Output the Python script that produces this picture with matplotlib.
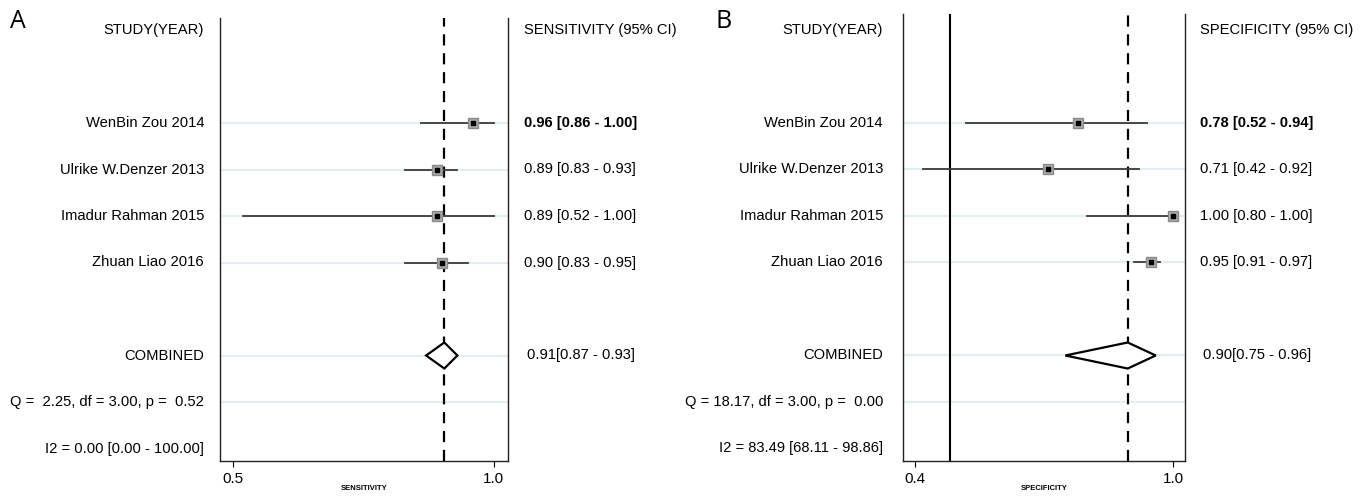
import matplotlib
matplotlib.use("Agg")
import matplotlib.pyplot as plt
import matplotlib.transforms as mtransforms

plt.rcParams["font.family"] = ["Liberation Sans", "DejaVu Sans"]

studies = ["WenBin Zou 2014", "Ulrike W.Denzer 2013", "Imadur Rahman 2015", "Zhuan Liao 2016"]

sens = [0.96, 0.89, 0.89, 0.90]
sens_lo = [0.86, 0.83, 0.52, 0.83]
sens_hi = [1.00, 0.93, 1.00, 0.95]
sens_pooled = [0.905, 0.87, 0.93]
sens_labels = ["0.96 [0.86 - 1.00]", "0.89 [0.83 - 0.93]", "0.89 [0.52 - 1.00]", "0.90 [0.83 - 0.95]"]
sens_pooled_label = "0.91[0.87 - 0.93]"
sens_q = "Q =  2.25, df = 3.00, p =  0.52"
sens_i2 = "I2 = 0.00 [0.00 - 100.00]"

spec = [0.78, 0.71, 1.00, 0.95]
spec_lo = [0.52, 0.42, 0.80, 0.91]
spec_hi = [0.94, 0.92, 1.00, 0.97]
spec_pooled = [0.895, 0.75, 0.96]
spec_labels = ["0.78 [0.52 - 0.94]", "0.71 [0.42 - 0.92]", "1.00 [0.80 - 1.00]", "0.95 [0.91 - 0.97]"]
spec_pooled_label = "0.90[0.75 - 0.96]"
spec_q = "Q = 18.17, df = 3.00, p =  0.00"
spec_i2 = "I2 = 83.49 [68.11 - 98.86]"

W, H = 1371, 497
fig = plt.figure(figsize=(W / 100, H / 100), dpi=100)

STUDY_ROWS = [2, 3, 4, 5]
POOL_ROW, Q_ROW, I2_ROW = 7, 8, 9
GRID_COLOR = "#e4edf0"
FS = 10.6


def panel(letter, left_px, right_px, top_px, xlim, ticks, xlabel, header,
          est, lo, hi, labels, pooled, pooled_label, q, i2,
          label_x_px, value_x_px, letter_x_px, solid_x=None):
    bottom_px = 461
    ax = fig.add_axes([left_px / W, 1 - bottom_px / H,
                       (right_px - left_px) / W, (bottom_px - top_px) / H])
    # row 0 is the header line at y=30 px, rows are 46.5 px apart
    ax.set_ylim((bottom_px - 30) / 46.5, (top_px - 30) / 46.5)
    ax.set_xlim(*xlim)

    for r in STUDY_ROWS + [POOL_ROW, Q_ROW]:
        ax.axhline(r, color=GRID_COLOR, lw=1.6, zorder=0)

    if solid_x is not None:
        ax.axvline(solid_x, color="black", lw=1.5, zorder=1)
    ax.axvline(pooled[0], color="black", lw=1.6, ls=(0, (5, 3.5)), zorder=1)

    for r, e, l, h in zip(STUDY_ROWS, est, lo, hi):
        ax.plot([l, h], [r, r], color="#3a3a3a", lw=1.3, zorder=2)
        ax.plot(e, r, marker="s", ms=7, color="#a8a8a8", mec="#8a8a8a", zorder=3)
        ax.plot(e, r, marker="s", ms=2.4, color="black", zorder=4)

    p, pl, ph = pooled
    ax.fill([pl, p, ph, p, pl], [POOL_ROW, POOL_ROW - 0.28, POOL_ROW, POOL_ROW + 0.28, POOL_ROW],
            facecolor="white", edgecolor="black", lw=1.6, zorder=3)

    ax.spines["top"].set_visible(False)
    for s in ["left", "right", "bottom"]:
        ax.spines[s].set_linewidth(1.0)
        ax.spines[s].set_color("#222222")
    ax.set_yticks([])
    ax.set_xticks(ticks)
    ax.set_xticklabels([f"{t:.1f}" for t in ticks], fontsize=FS + 0.4)
    ax.tick_params(axis="x", length=4, width=0.8, pad=4)
    ax.set_xlabel(xlabel, fontsize=5.5, fontweight="bold", labelpad=-1)

    tr = mtransforms.blended_transform_factory(fig.transFigure, ax.transData)
    lx = label_x_px / W
    vx = value_x_px / W
    ax.text(lx, 0, "STUDY(YEAR)", transform=tr, ha="right", va="center", fontsize=FS)
    ax.text(vx, 0, header, transform=tr, ha="left", va="center", fontsize=FS)
    for i, (r, name, lab) in enumerate(zip(STUDY_ROWS, studies, labels)):
        ax.text(lx, r, name, transform=tr, ha="right", va="center", fontsize=FS)
        ax.text(vx, r, lab, transform=tr, ha="left", va="center", fontsize=FS,
                fontweight="bold" if i == 0 else "normal")
    ax.text(lx, POOL_ROW, "COMBINED", transform=tr, ha="right", va="center", fontsize=FS)
    ax.text(vx + 3 / W, POOL_ROW, pooled_label, transform=tr, ha="left", va="center", fontsize=FS)
    ax.text(lx, Q_ROW, q, transform=tr, ha="right", va="center", fontsize=FS)
    ax.text(lx, I2_ROW, i2, transform=tr, ha="right", va="center", fontsize=FS)

    fig.text(letter_x_px / W, 1 - 22 / H, letter, fontsize=18, family="Open Sans",
             ha="left", va="center")
    return ax


panel("A", 220, 508, 18, (0.475, 1.027), [0.5, 1.0], "SENSITIVITY",
      "SENSITIVITY (95% CI)", sens, sens_lo, sens_hi, sens_labels,
      sens_pooled, sens_pooled_label, sens_q, sens_i2,
      label_x_px=204, value_x_px=524, letter_x_px=10)

panel("B", 903, 1185, 14, (0.373, 1.028), [0.4, 1.0], "SPECIFICITY",
      "SPECIFICITY (95% CI)", spec, spec_lo, spec_hi, spec_labels,
      spec_pooled, spec_pooled_label, spec_q, spec_i2,
      label_x_px=883, value_x_px=1200, letter_x_px=716, solid_x=0.483)

fig.savefig("out.png", dpi=100, facecolor="white")
